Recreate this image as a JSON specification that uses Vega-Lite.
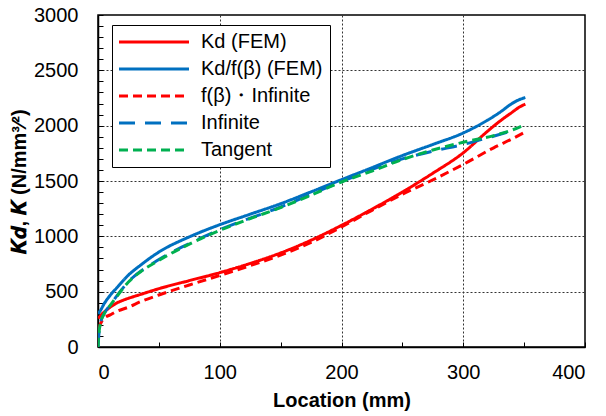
{
  "$schema": "https://vega.github.io/schema/vega-lite/v6.json",
  "width": 487,
  "height": 332,
  "autosize": "none",
  "padding": {"left": 98, "top": 15, "right": 21, "bottom": 69},
  "background": "white",
  "data": {"values": [
    {"s": "Kd (FEM)", "x": 0, "y": 260},
    {"s": "Kd (FEM)", "x": 1, "y": 270},
    {"s": "Kd (FEM)", "x": 3, "y": 295},
    {"s": "Kd (FEM)", "x": 5, "y": 315},
    {"s": "Kd (FEM)", "x": 10, "y": 360},
    {"s": "Kd (FEM)", "x": 15, "y": 395},
    {"s": "Kd (FEM)", "x": 20, "y": 420},
    {"s": "Kd (FEM)", "x": 25, "y": 440},
    {"s": "Kd (FEM)", "x": 35, "y": 475},
    {"s": "Kd (FEM)", "x": 50, "y": 527},
    {"s": "Kd (FEM)", "x": 75, "y": 600},
    {"s": "Kd (FEM)", "x": 100, "y": 672},
    {"s": "Kd (FEM)", "x": 125, "y": 755},
    {"s": "Kd (FEM)", "x": 150, "y": 850},
    {"s": "Kd (FEM)", "x": 175, "y": 965},
    {"s": "Kd (FEM)", "x": 200, "y": 1099},
    {"s": "Kd (FEM)", "x": 225, "y": 1245},
    {"s": "Kd (FEM)", "x": 250, "y": 1400},
    {"s": "Kd (FEM)", "x": 275, "y": 1570},
    {"s": "Kd (FEM)", "x": 300, "y": 1755},
    {"s": "Kd (FEM)", "x": 320, "y": 1950},
    {"s": "Kd (FEM)", "x": 330, "y": 2040},
    {"s": "Kd (FEM)", "x": 340, "y": 2120},
    {"s": "Kd (FEM)", "x": 345, "y": 2160},
    {"s": "Kd (FEM)", "x": 351, "y": 2195},

    {"s": "Kd/f(β) (FEM)", "x": 0, "y": 300},
    {"s": "Kd/f(β) (FEM)", "x": 2, "y": 330},
    {"s": "Kd/f(β) (FEM)", "x": 5, "y": 390},
    {"s": "Kd/f(β) (FEM)", "x": 10, "y": 467},
    {"s": "Kd/f(β) (FEM)", "x": 15, "y": 530},
    {"s": "Kd/f(β) (FEM)", "x": 25, "y": 650},
    {"s": "Kd/f(β) (FEM)", "x": 35, "y": 740},
    {"s": "Kd/f(β) (FEM)", "x": 50, "y": 858},
    {"s": "Kd/f(β) (FEM)", "x": 75, "y": 995},
    {"s": "Kd/f(β) (FEM)", "x": 100, "y": 1105},
    {"s": "Kd/f(β) (FEM)", "x": 125, "y": 1200},
    {"s": "Kd/f(β) (FEM)", "x": 150, "y": 1295},
    {"s": "Kd/f(β) (FEM)", "x": 175, "y": 1402},
    {"s": "Kd/f(β) (FEM)", "x": 200, "y": 1512},
    {"s": "Kd/f(β) (FEM)", "x": 225, "y": 1620},
    {"s": "Kd/f(β) (FEM)", "x": 250, "y": 1730},
    {"s": "Kd/f(β) (FEM)", "x": 275, "y": 1830},
    {"s": "Kd/f(β) (FEM)", "x": 300, "y": 1934},
    {"s": "Kd/f(β) (FEM)", "x": 320, "y": 2050},
    {"s": "Kd/f(β) (FEM)", "x": 330, "y": 2120},
    {"s": "Kd/f(β) (FEM)", "x": 340, "y": 2200},
    {"s": "Kd/f(β) (FEM)", "x": 346, "y": 2235},
    {"s": "Kd/f(β) (FEM)", "x": 351, "y": 2254},

    {"s": "f(β)・Infinite", "x": 0, "y": 40},
    {"s": "f(β)・Infinite", "x": 0.5, "y": 120},
    {"s": "f(β)・Infinite", "x": 1, "y": 170},
    {"s": "f(β)・Infinite", "x": 3, "y": 230},
    {"s": "f(β)・Infinite", "x": 5, "y": 260},
    {"s": "f(β)・Infinite", "x": 10, "y": 290},
    {"s": "f(β)・Infinite", "x": 15, "y": 320},
    {"s": "f(β)・Infinite", "x": 25, "y": 360},
    {"s": "f(β)・Infinite", "x": 35, "y": 410},
    {"s": "f(β)・Infinite", "x": 50, "y": 470},
    {"s": "f(β)・Infinite", "x": 75, "y": 560},
    {"s": "f(β)・Infinite", "x": 100, "y": 647},
    {"s": "f(β)・Infinite", "x": 125, "y": 735},
    {"s": "f(β)・Infinite", "x": 150, "y": 830},
    {"s": "f(β)・Infinite", "x": 175, "y": 945},
    {"s": "f(β)・Infinite", "x": 200, "y": 1085},
    {"s": "f(β)・Infinite", "x": 225, "y": 1235},
    {"s": "f(β)・Infinite", "x": 250, "y": 1380},
    {"s": "f(β)・Infinite", "x": 275, "y": 1510},
    {"s": "f(β)・Infinite", "x": 300, "y": 1650},
    {"s": "f(β)・Infinite", "x": 325, "y": 1800},
    {"s": "f(β)・Infinite", "x": 340, "y": 1880},
    {"s": "f(β)・Infinite", "x": 351, "y": 1943},

    {"s": "Infinite", "x": 0, "y": 0},
    {"s": "Infinite", "x": 1, "y": 150},
    {"s": "Infinite", "x": 2, "y": 213},
    {"s": "Infinite", "x": 5, "y": 300},
    {"s": "Infinite", "x": 10, "y": 380},
    {"s": "Infinite", "x": 25, "y": 590},
    {"s": "Infinite", "x": 50, "y": 790},
    {"s": "Infinite", "x": 75, "y": 935},
    {"s": "Infinite", "x": 100, "y": 1060},
    {"s": "Infinite", "x": 150, "y": 1265},
    {"s": "Infinite", "x": 200, "y": 1495},
    {"s": "Infinite", "x": 250, "y": 1700},
    {"s": "Infinite", "x": 275, "y": 1770},
    {"s": "Infinite", "x": 300, "y": 1830},
    {"s": "Infinite", "x": 320, "y": 1890},
    {"s": "Infinite", "x": 342, "y": 1960},

    {"s": "Tangent", "x": 0, "y": 0},
    {"s": "Tangent", "x": 0.5, "y": 100},
    {"s": "Tangent", "x": 1, "y": 150},
    {"s": "Tangent", "x": 2, "y": 213},
    {"s": "Tangent", "x": 5, "y": 300},
    {"s": "Tangent", "x": 10, "y": 376},
    {"s": "Tangent", "x": 15, "y": 450},
    {"s": "Tangent", "x": 25, "y": 587},
    {"s": "Tangent", "x": 35, "y": 680},
    {"s": "Tangent", "x": 50, "y": 783},
    {"s": "Tangent", "x": 75, "y": 930},
    {"s": "Tangent", "x": 100, "y": 1054},
    {"s": "Tangent", "x": 125, "y": 1160},
    {"s": "Tangent", "x": 150, "y": 1260},
    {"s": "Tangent", "x": 175, "y": 1372},
    {"s": "Tangent", "x": 200, "y": 1491},
    {"s": "Tangent", "x": 225, "y": 1590},
    {"s": "Tangent", "x": 250, "y": 1694},
    {"s": "Tangent", "x": 275, "y": 1780},
    {"s": "Tangent", "x": 300, "y": 1850},
    {"s": "Tangent", "x": 325, "y": 1910},
    {"s": "Tangent", "x": 340, "y": 1960},
    {"s": "Tangent", "x": 351, "y": 2010}
  ]},
  "mark": {"type": "line", "strokeWidth": 3, "interpolate": "monotone", "clip": true},
  "encoding": {
    "x": {
      "field": "x", "type": "quantitative",
      "scale": {"domain": [0, 400], "nice": false, "zero": false},
      "axis": {
        "title": "Location (mm)",
        "values": [0, 50, 100, 150, 200, 250, 300, 350, 400],
        "labelExpr": "datum.value % 100 === 0 ? datum.label : ''",
        "tickSize": -5,
        "tickColor": "black",
        "labelPadding": 20,
        "titlePadding": 8,
        "gridOpacity": {"condition": {"test": "datum.value % 100 === 0 && datum.value > 0 && datum.value < 400", "value": 1}, "value": 0}
      }
    },
    "y": {
      "field": "y", "type": "quantitative",
      "scale": {"domain": [0, 3000], "nice": false},
      "axis": {
        "title": "𝑲𝒅, 𝑲 (N/mm³⁄²)",
        "values": [0,100,200,300,400,500,600,700,800,900,1000,1100,1200,1300,1400,1500,1600,1700,1800,1900,2000,2100,2200,2300,2400,2500,2600,2700,2800,2900,3000],
        "labelExpr": "datum.value % 500 === 0 ? datum.label : ''",
        "format": "d",
        "tickSize": -5,
        "tickColor": "black",
        "labelPadding": 25,
        "titlePadding": 4,
        "gridOpacity": {"condition": {"test": "datum.value % 500 === 0 && datum.value > 0 && datum.value < 3000", "value": 1}, "value": 0}
      }
    },
    "color": {
      "field": "s", "type": "nominal",
      "scale": {
        "domain": ["Kd (FEM)", "Kd/f(β) (FEM)", "f(β)・Infinite", "Infinite", "Tangent"],
        "range": ["#FF0000", "#0070C0", "#FF0000", "#0070C0", "#00B050"]
      },
      "legend": {
        "orient": "none", "legendX": 14, "legendY": 10, "title": null,
        "symbolType": "M-10,0H10", "symbolSize": 49, "symbolStrokeWidth": 3,
        "symbolOffset": 25,
        "labelFontSize": 20, "labelFont": "Liberation Sans", "labelColor": "black",
        "labelExpr": "datum.label + ' '",
        "strokeColor": "black", "fillColor": "white", "padding": 7,
        "rowPadding": 7, "labelOffset": 37, "cornerRadius": 0
      }
    },
    "strokeDash": {
      "field": "s", "type": "nominal",
      "scale": {
        "domain": ["Kd (FEM)", "Kd/f(β) (FEM)", "f(β)・Infinite", "Infinite", "Tangent"],
        "range": [[1, 0], [1, 0], [9, 5], [16, 10], [9, 5]]
      }
    }
  },
  "config": {
    "font": "Liberation Sans",
    "view": {"stroke": "black", "strokeWidth": 1.5},
    "axis": {
      "domainColor": "black", "domainWidth": 1.5,
      "labelFont": "Liberation Sans", "labelFontSize": 20, "labelColor": "black",
      "titleFont": "Liberation Sans", "titleFontSize": 20, "titleFontWeight": "bold", "titleColor": "black",
      "grid": true, "gridColor": "#333333", "gridDash": [2, 2], "gridWidth": 1
    }
  }
}
